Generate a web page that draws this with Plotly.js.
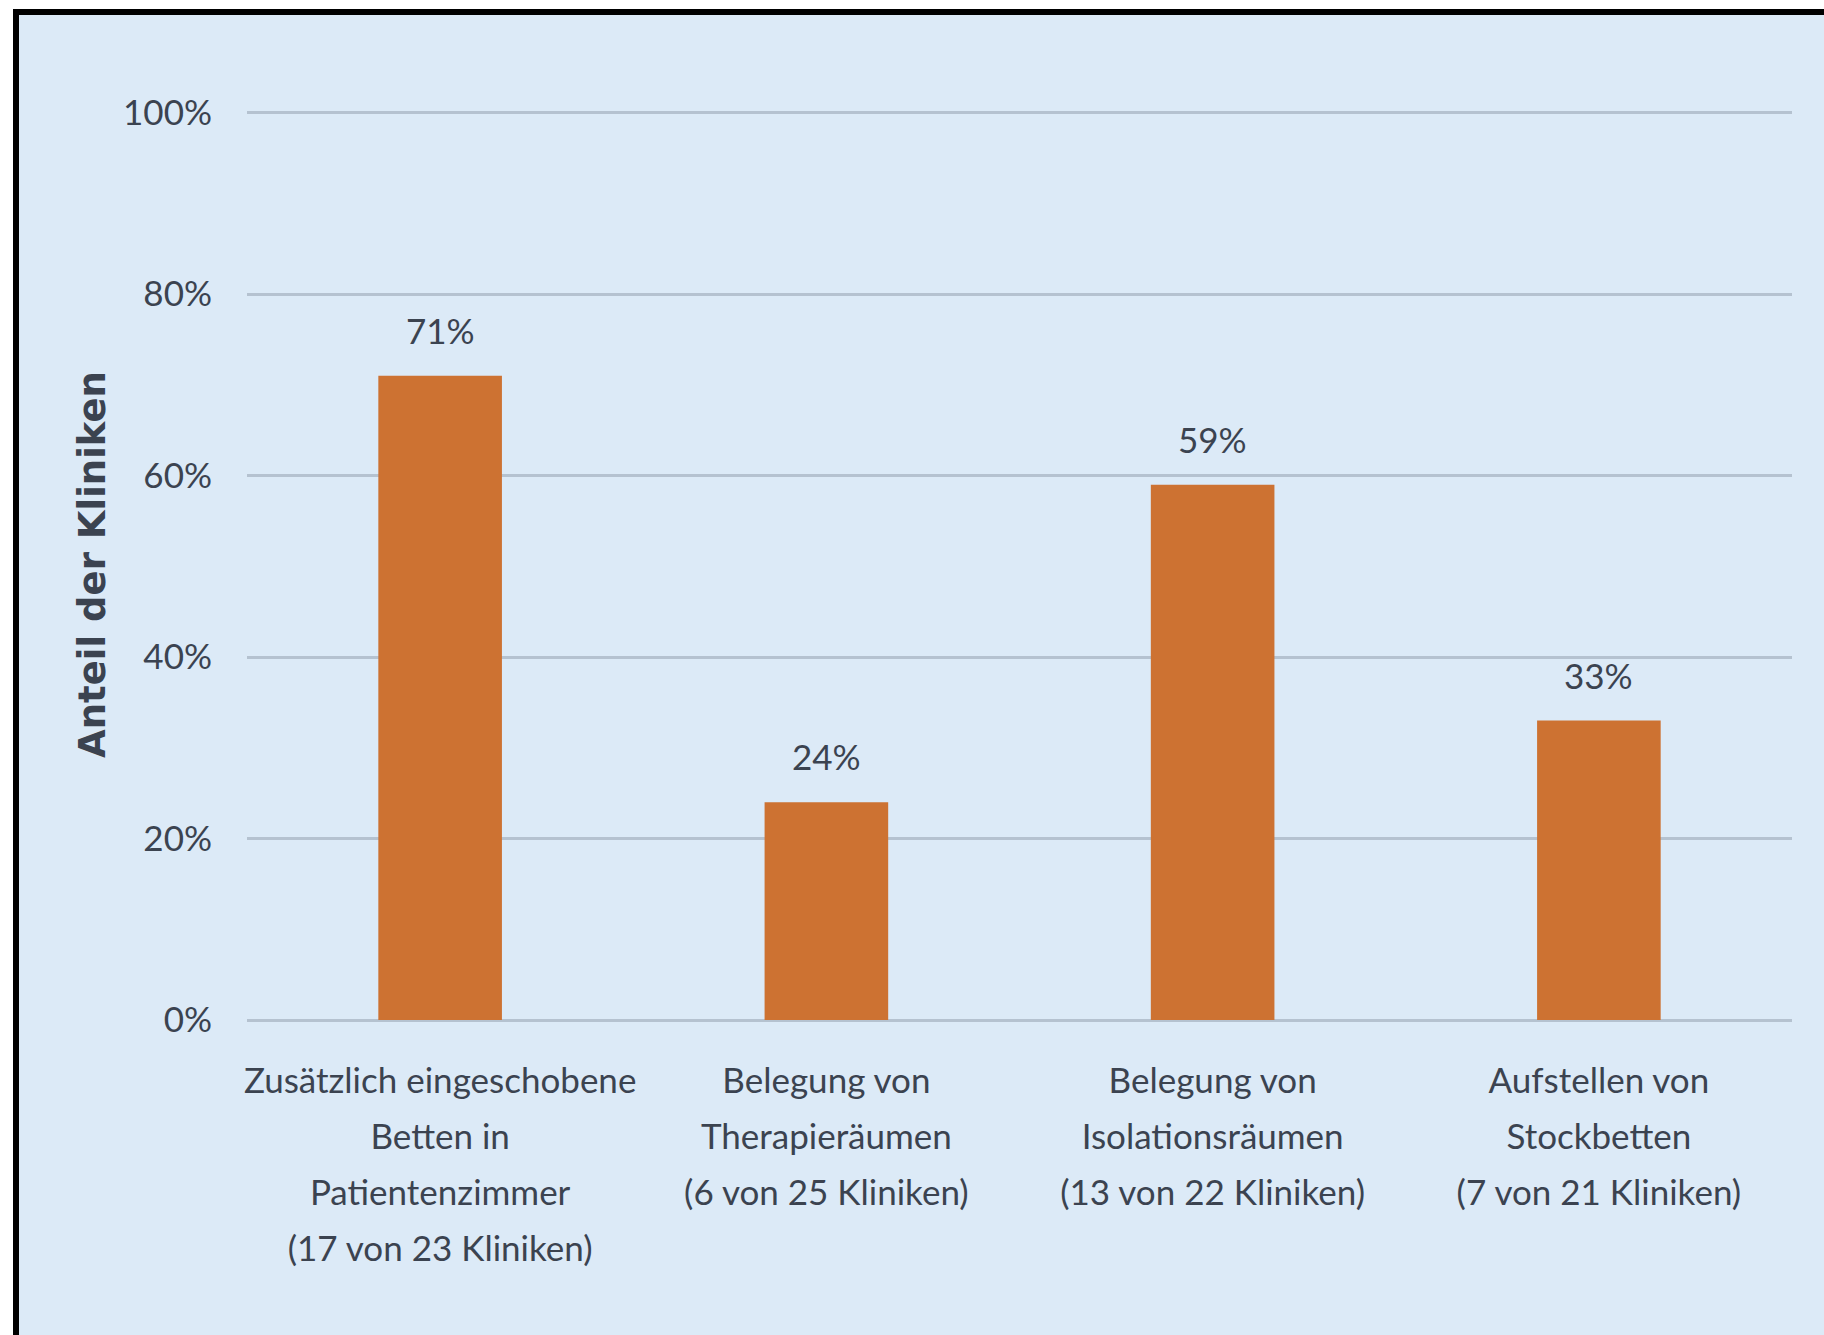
<!DOCTYPE html>
<html>
<head>
<meta charset="utf-8">
<script src="https://cdn.plot.ly/plotly-3.0.1.min.js"></script>
<style>
  html, body { margin: 0; padding: 0; background: #ffffff; width: 1824px; height: 1335px; overflow: hidden; }
  #frame { position: absolute; left: 13px; top: 9px; border-top: 6px solid #000; border-left: 6px solid #000; width: 1805px; height: 1320px; background: #dceaf7; }
  #chart { width: 1805px; height: 1320px; }
</style>
</head>
<body>
<div id="frame"><div id="chart"></div></div>
<script>
const categories = [
  "Zusätzlich eingeschobene<br>Betten in<br>Patientenzimmer<br>(17 von 23 Kliniken)",
  "Belegung von<br>Therapieräumen<br>(6 von 25 Kliniken)",
  "Belegung von<br>Isolationsräumen<br>(13 von 22 Kliniken)",
  "Aufstellen von<br>Stockbetten<br>(7 von 21 Kliniken)"
];
const values = [71, 24, 59, 33];
const valueLabels = ["71%", "24%", "59%", "33%"];
const yTickVals = [0, 20, 40, 60, 80, 100];
const yTickText = ["0%", "20%", "40%", "60%", "80%", "100%"];
const yTitle = "Anteil der Kliniken";

const labelFont = { family: "Lato, 'Liberation Sans', sans-serif", size: 35, color: "#3b4350" };

const trace = {
  type: "bar",
  x: categories,
  y: values,
  marker: { color: "#cd7232", line: { width: 0 } },
  hoverinfo: "skip"
};

const annotations = categories.map((c, i) => ({
  x: c, y: values[i], xref: "x", yref: "y",
  text: valueLabels[i], showarrow: false,
  yanchor: "bottom", yshift: 23,
  font: labelFont
}));

const layout = {
  width: 1805, height: 1320,
  margin: { l: 228, r: 32, t: 94, b: 315 },
  paper_bgcolor: "#dceaf7",
  plot_bgcolor: "#dceaf7",
  bargap: 0.68,
  showlegend: false,
  xaxis: {
    type: "category",
    tickfont: labelFont,
    ticks: "outside", ticklen: 30, tickcolor: "rgba(0,0,0,0)",
    showgrid: false, showline: false, zeroline: false,
    automargin: false
  },
  yaxis: {
    range: [0, 100.4],
    tickvals: yTickVals, ticktext: yTickText,
    tickfont: labelFont,
    ticks: "outside", ticklen: 27, tickcolor: "rgba(0,0,0,0)",
    showgrid: true, gridcolor: "#b5c2d0", gridwidth: 3,
    zeroline: true, zerolinecolor: "#b5c2d0", zerolinewidth: 3,
    showline: false, automargin: false,
    title: { text: yTitle, standoff: 6, font: { family: "'DejaVu Sans', sans-serif", size: 37, weight: "bold", color: "#3b4350" } }
  },
  annotations: annotations
};

Plotly.newPlot("chart", [trace], layout, { staticPlot: true, displayModeBar: false }).then(function () {
  // widen the line spacing of the multi-line category labels (1.3em -> 1.6em)
  document.querySelectorAll("#chart .xtick text tspan.line").forEach(function (t) {
    const dy = parseFloat(t.getAttribute("dy"));
    if (!isNaN(dy) && dy !== 0) t.setAttribute("dy", (dy * 1.6 / 1.3) + "em");
  });
});
</script>
</body>
</html>
